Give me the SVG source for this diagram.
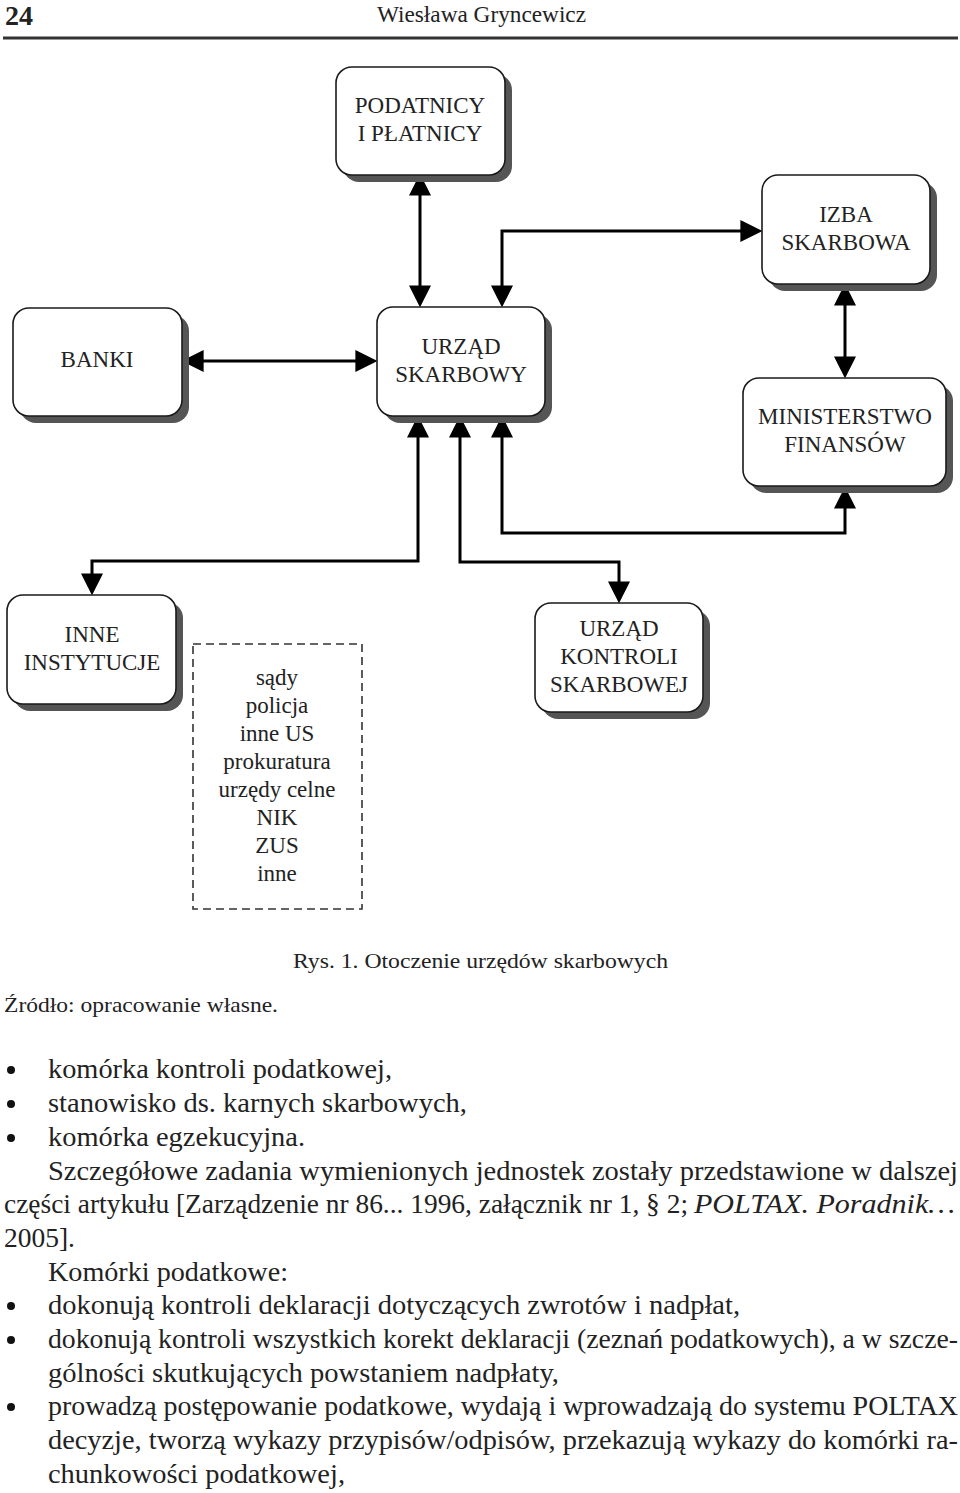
<svg xmlns="http://www.w3.org/2000/svg" width="960" height="1493" viewBox="0 0 960 1493">
<style>
  text { font-family: "Liberation Serif", "Times New Roman", serif; fill: #222; }
  .box { fill: #fff; stroke: #1a1a1a; stroke-width: 1.6; }
  .shadow { fill: #555; }
  .bt { font-size: 23px; text-anchor: middle; }
  .conn { fill: none; stroke: #000; stroke-width: 3; }
  .body { font-size: 27px; }
  .cap { font-size: 22px; }
  .bul { fill: #111; }
</style>
<defs>
  <marker id="ah" markerUnits="userSpaceOnUse" markerWidth="22" markerHeight="22" viewBox="0 0 20 20" refX="16" refY="10" orient="auto-start-reverse">
    <path d="M0,0 L20,10 L0,20 z" fill="#000"/>
  </marker>
</defs>
<rect width="960" height="1493" fill="#fff"/>

<!-- header -->
<g id="header">
  <text x="5" y="25" style="font-size:28px;font-weight:bold" textLength="28" lengthAdjust="spacingAndGlyphs">24</text>
  <text x="377" y="22" style="font-size:23px" textLength="209" lengthAdjust="spacingAndGlyphs">Wiesława Gryncewicz</text>
  <rect x="3" y="36.5" width="955" height="3" fill="#333"/>
</g>

<!-- connectors -->
<g id="connectors">
  <line class="conn" x1="420" y1="178" x2="420" y2="303" marker-start="url(#ah)" marker-end="url(#ah)"/>
  <path class="conn" d="M502,303 L502,231 L758,231" marker-start="url(#ah)" marker-end="url(#ah)"/>
  <line class="conn" x1="845" y1="288" x2="845" y2="374" marker-start="url(#ah)" marker-end="url(#ah)"/>
  <line class="conn" x1="186" y1="361" x2="373" y2="361" marker-start="url(#ah)" marker-end="url(#ah)"/>
  <path class="conn" d="M92,591 L92,561 L418,561 L418,420" marker-start="url(#ah)" marker-end="url(#ah)"/>
  <path class="conn" d="M619,599 L619,562 L460,562 L460,420" marker-start="url(#ah)" marker-end="url(#ah)"/>
  <path class="conn" d="M845,491 L845,533 L502,533 L502,420" marker-start="url(#ah)" marker-end="url(#ah)"/>
</g>

<!-- nodes -->
<g id="podatnicy">
  <rect class="shadow" x="343" y="74" width="169" height="108" rx="16"/>
  <rect class="box" x="336" y="67" width="169" height="108" rx="16"/>
  <text class="bt" x="420" y="113">PODATNICY</text>
  <text class="bt" x="420" y="141">I PŁATNICY</text>
</g>
<g id="izba">
  <rect class="shadow" x="769" y="182" width="168" height="109" rx="16"/>
  <rect class="box" x="762" y="175" width="168" height="109" rx="16"/>
  <text class="bt" x="846" y="222">IZBA</text>
  <text class="bt" x="846" y="250">SKARBOWA</text>
</g>
<g id="banki">
  <rect class="shadow" x="20" y="315" width="169" height="108" rx="16"/>
  <rect class="box" x="13" y="308" width="169" height="108" rx="16"/>
  <text class="bt" x="97" y="367">BANKI</text>
</g>
<g id="urzad-skarbowy">
  <rect class="shadow" x="384" y="314" width="168" height="109" rx="16"/>
  <rect class="box" x="377" y="307" width="168" height="109" rx="16"/>
  <text class="bt" x="461" y="354">URZĄD</text>
  <text class="bt" x="461" y="382">SKARBOWY</text>
</g>
<g id="ministerstwo">
  <rect class="shadow" x="750" y="385" width="203" height="108" rx="16"/>
  <rect class="box" x="743" y="378" width="203" height="108" rx="16"/>
  <text class="bt" x="845" y="424">MINISTERSTWO</text>
  <text class="bt" x="845" y="452">FINANSÓW</text>
</g>
<g id="inne-instytucje">
  <rect class="shadow" x="14" y="602" width="169" height="109" rx="16"/>
  <rect class="box" x="7" y="595" width="169" height="109" rx="16"/>
  <text class="bt" x="92" y="642">INNE</text>
  <text class="bt" x="92" y="670">INSTYTUCJE</text>
</g>
<g id="lista">
  <rect x="193" y="644" width="169" height="265" fill="none" stroke="#333" stroke-width="1.6" stroke-dasharray="8,5"/>
  <text class="bt" x="277" y="685">sądy</text>
  <text class="bt" x="277" y="713">policja</text>
  <text class="bt" x="277" y="741">inne US</text>
  <text class="bt" x="277" y="769">prokuratura</text>
  <text class="bt" x="277" y="797">urzędy celne</text>
  <text class="bt" x="277" y="825">NIK</text>
  <text class="bt" x="277" y="853">ZUS</text>
  <text class="bt" x="277" y="881">inne</text>
</g>
<g id="urzad-kontroli">
  <rect class="shadow" x="542" y="610" width="168" height="109" rx="16"/>
  <rect class="box" x="535" y="603" width="168" height="109" rx="16"/>
  <text class="bt" x="619" y="636">URZĄD</text>
  <text class="bt" x="619" y="664">KONTROLI</text>
  <text class="bt" x="619" y="692">SKARBOWEJ</text>
</g>

<!-- caption -->
<g id="caption">
  <text class="cap" x="293" y="968" textLength="375" lengthAdjust="spacingAndGlyphs">Rys. 1. Otoczenie urzędów skarbowych</text>
  <text class="cap" x="4" y="1012" textLength="274" lengthAdjust="spacingAndGlyphs">Źródło: opracowanie własne.</text>
</g>

<!-- body text -->
<g id="body">
  <circle class="bul" cx="11" cy="1070" r="4"/>
  <text class="body" x="48" y="1078" textLength="344" lengthAdjust="spacingAndGlyphs">komórka kontroli podatkowej,</text>
  <circle class="bul" cx="11" cy="1104" r="4"/>
  <text class="body" x="48" y="1112" textLength="419" lengthAdjust="spacingAndGlyphs">stanowisko ds. karnych skarbowych,</text>
  <circle class="bul" cx="11" cy="1138" r="4"/>
  <text class="body" x="48" y="1146" textLength="257" lengthAdjust="spacingAndGlyphs">komórka egzekucyjna.</text>
  <text class="body" x="48" y="1180" textLength="910" lengthAdjust="spacingAndGlyphs">Szczegółowe zadania wymienionych jednostek zostały przedstawione w dalszej</text>
  <text class="body" x="4" y="1213" textLength="684" lengthAdjust="spacingAndGlyphs">części artykułu [Zarządzenie nr 86... 1996, załącznik nr 1, § 2;</text>
  <text class="body" x="694" y="1213" textLength="261" lengthAdjust="spacingAndGlyphs" style="font-style:italic">POLTAX. Poradnik…</text>
  <text class="body" x="4" y="1247" textLength="71" lengthAdjust="spacingAndGlyphs">2005].</text>
  <text class="body" x="48" y="1281" textLength="240" lengthAdjust="spacingAndGlyphs">Komórki podatkowe:</text>
  <circle class="bul" cx="11" cy="1306" r="4"/>
  <text class="body" x="48" y="1314" textLength="692" lengthAdjust="spacingAndGlyphs">dokonują kontroli deklaracji dotyczących zwrotów i nadpłat,</text>
  <circle class="bul" cx="11" cy="1340" r="4"/>
  <text class="body" x="48" y="1348" textLength="910" lengthAdjust="spacingAndGlyphs">dokonują kontroli wszystkich korekt deklaracji (zeznań podatkowych), a w szcze-</text>
  <text class="body" x="48" y="1382" textLength="511" lengthAdjust="spacingAndGlyphs">gólności skutkujących powstaniem nadpłaty,</text>
  <circle class="bul" cx="11" cy="1407" r="4"/>
  <text class="body" x="48" y="1415" textLength="910" lengthAdjust="spacingAndGlyphs">prowadzą postępowanie podatkowe, wydają i wprowadzają do systemu POLTAX</text>
  <text class="body" x="48" y="1449" textLength="910" lengthAdjust="spacingAndGlyphs">decyzje, tworzą wykazy przypisów/odpisów, przekazują wykazy do komórki ra-</text>
  <text class="body" x="48" y="1483" textLength="297" lengthAdjust="spacingAndGlyphs">chunkowości podatkowej,</text>
</g>
</svg>
